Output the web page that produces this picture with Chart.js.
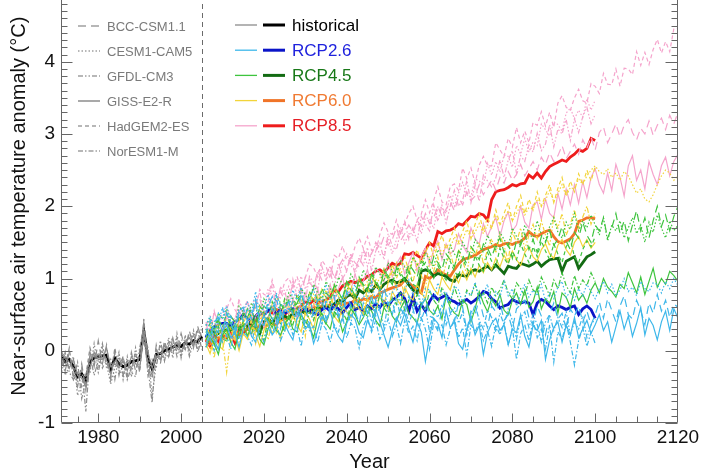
<!DOCTYPE html>
<html><head><meta charset="utf-8">
<script src="https://cdn.jsdelivr.net/npm/chart.js@4"></script>
<style>
html,body{margin:0;padding:0;background:#fff;overflow:hidden;width:710px;height:473px}
#wrap{position:absolute;left:0;top:-40px;width:710px;height:513px}
</style></head><body>
<div id="wrap"><canvas id="c" width="710" height="513"></canvas></div>
<script>
const FONT = '"Liberation Sans", Arial, Helvetica, sans-serif';
const histStart = 1971, futStart = 2006;
const xTickValues = [1980, 2000, 2020, 2040, 2060, 2080, 2100, 2120];
const yTickValues = [-1, 0, 1, 2, 3, 4, 5];
const modelNames = ['BCC-CSM1.1', 'CESM1-CAM5', 'GFDL-CM3', 'GISS-E2-R', 'HadGEM2-ES', 'NorESM1-M'];
const scenarioNames = ['historical', 'RCP2.6', 'RCP4.5', 'RCP6.0', 'RCP8.5'];

// ---- historical (1971-2005) ----
const histMean = [-.06,-.15,-.12,-.22,-.36,-.32,-.42,-.15,-.10,-.08, -.07,-.06,-.26,-.10,-.18,-.22,-.20,-.15,-.14,-.12, .27,-.10,-.25,-.05,-.04,.00,.02,.05,.07,.06, .11,.09,.14,.12,.20];
const hist_BCC = [-.10,-.28,-.02,-.34,-.50,-.18,-.55,-.02,-.22,.14, -.18,.08,-.40,-.02,-.34,-.08,-.36,-.02,-.28,-.04, .38,-.24,-.40,.08,-.18,.14,-.08,.18,-.02,.24, .02,.28,.04,.34,.16];
const hist_CESM = [.08,-.34,-.22,-.08,-.62,-.44,-.30,-.30,.10,-.24, .04,-.18,-.46,-.24,-.02,-.40,-.08,-.36,.04,-.26, .22,.04,-.64,-.18,.08,-.14,.18,-.10,.24,-.10, .22,-.04,.28,.02,.34];
const hist_GFDL = [-.24,-.02,-.30,-.40,-.16,-.66,-.42,-.06,-.34,-.14, .10,-.24,-.12,-.40,-.06,-.34,-.12,-.30,-.36,.04, .32,-.34,-.12,-.24,.14,-.14,.08,.18,-.08,.14, .18,-.08,.12,.28,.02];
const hist_GISS = [-.02,-.08,-.24,-.12,-.34,-.38,-.50,-.24,-.02,-.12, -.12,.04,-.22,-.18,-.24,-.14,-.28,-.08,-.18,-.24, .24,-.02,-.24,-.08,-.12,.08,-.02,.04,.12,-.02, .12,.18,.08,.16,.22];
const hist_HadGEM = [-.18,-.22,.04,-.40,-.30,-.50,-.34,.04,-.16,-.02, -.24,-.12,-.34,.04,-.28,-.34,-.14,-.24,-.02,-.30, .44,-.18,-.34,.02,-.04,.02,.12,-.04,.18,.04, .02,.24,.16,.08,.28];
const hist_NorESM = [-.34,-.08,-.16,-.24,-.44,-.24,-.84,-.08,-.04,-.30, -.02,-.12,-.34,-.12,-.22,-.08,-.40,-.24,-.08,-.12, .18,-.24,-.72,.02,-.12,-.04,-.08,.12,.04,-.08, .12,.02,.24,-.02,.16];

// ---- scenario means (2006-2100) ----
const rcp26Mean = [.18,.28,.33,.36,.38,.38,.34,.40,.43,.50,.45,.40,.48,.54,.50,.56,.59,.50,.57,.52,
 .55,.58,.50,.56,.60,.55,.52,.50,.57,.60,.55,.62,.58,.52,.60,.66,.57,.60,.55,.62,
 .58,.65,.60,.68,.62,.70,.74,.80,.72,.55,.75,.55,.64,.55,.68,.77,.71,.74,.77,.70,
 .68,.64,.68,.71,.66,.70,.75,.82,.80,.72,.68,.59,.62,.64,.71,.68,.66,.68,.66,.50,
 .66,.71,.68,.62,.57,.62,.60,.57,.60,.62,.50,.58,.62,.57,.45];
const rcp45Mean = [.20,.25,.27,.24,.30,.28,.28,.33,.30,.36,.34,.40,.30,.24,.40,.45,.38,.46,.44,.48,
 .45,.52,.50,.55,.52,.58,.55,.60,.57,.62,.60,.65,.70,.68,.75,.78,.72,.84,.80,.86,
 .82,.91,.85,.92,.96,.98,.94,.96,1.00,.91,.84,.80,1.10,1.12,1.10,1.03,1.07,1.05,1.03,.98,
 .96,1.05,1.04,1.03,1.10,1.12,1.10,1.14,1.17,1.12,1.19,1.13,1.07,1.17,1.15,1.14,1.21,1.19,1.17,1.20,
 1.24,1.17,1.22,1.26,1.27,1.28,1.10,1.24,1.27,1.30,1.14,1.22,1.30,1.33,1.37];
const rcp60Mean = [.16,.12,.15,.18,.16,.20,.22,.25,.22,.28,.30,.34,.30,.35,.33,.36,.38,.36,.42,.44,
 .46,.50,.48,.55,.57,.58,.61,.57,.62,.60,.64,.62,.66,.63,.66,.66,.70,.68,.72,.70,
 .75,.73,.80,.82,.85,.87,.89,.91,.98,.94,.89,.84,.80,1.03,1.00,1.05,1.12,1.08,1.05,1.03,
 1.12,1.20,1.26,1.28,1.30,1.32,1.36,1.40,1.42,1.44,1.47,1.45,1.48,1.49,1.47,1.50,1.51,1.56,1.65,1.60,
 1.58,1.62,1.65,1.67,1.58,1.51,1.49,1.52,1.55,1.62,1.79,1.81,1.84,1.84,1.83];
const rcp85Mean = [.15,.06,.22,.13,.22,.18,.24,.11,.32,.24,.31,.36,.40,.52,.50,.55,.52,.57,.55,.50,
 .55,.57,.58,.62,.68,.65,.70,.66,.68,.70,.75,.84,.82,.90,.93,.96,.94,.97,.98,1.03,
 1.05,1.10,1.12,1.08,1.15,1.21,1.18,1.21,1.34,1.33,1.36,1.32,1.28,1.40,1.49,1.45,1.65,1.62,1.66,1.67,
 1.70,1.76,1.74,1.80,1.86,1.85,1.90,1.88,1.81,2.09,2.20,2.22,2.23,2.26,2.30,2.28,2.31,2.32,2.43,2.39,
 2.46,2.39,2.48,2.55,2.58,2.61,2.64,2.62,2.68,2.72,2.78,2.76,2.80,2.94,2.91];

// ---- RCP2.6 models ----
const rcp26_GISS = [.10,.22,.15,.02,.28,.35,.18,.25,.05,.30, .42,.20,.12,.35,.48,.40,.22,.30,.55,.38, .25,.15,.45,.52,.30,.36,.10,.28,.47,.40, .55,.33,.20,.12,.38,.50,.44,.25,.18,.42, .30,.58,.40,.22,.05,.28,.46,.35,.52,.30, .12,.40,.26,-.15,.20,.45,.38,.18,.55,.32, .40,.10,.02,.30,.48,.22,.35,-.05,.25,.38, .45,.28,.36,.08,.30,.25,.50,.20,.05,.35, .28,.42,-.12,.15,.32,.40,.12,.35,.22,.46, .18,.30,.42,.24,.36,.50,.28,.40,.12,.33, .55,.30,.48,.20,.38,.60,.22,.45,.35,.15, .40,.55,.28,.58,.45];
const rcp26_BCC = [.30,.18,.40,.46,.25,.52,.38,.22,.55,.60, .42,.48,.70,.40,.35,.62,.75,.50,.30,.58, .68,.50,.45,.80,.62,.35,.55,.70,.72,.44, .58,.74,.50,.42,.82,.60,.55,.38,.66,.52, .78,.48,.60,.88,.65,.70,.42,.58,.50,.76, .58,.36,.62,.72,.48,.45,.30,.56,.78,.52, .40,.66,.60,.28,.55,.50,.72,.48,.32,.62, .54,.68,.42,.50,.30,.58,.64,.70,.46,.36, .62,.48,.22,.50,.66,.44,.52,.30,.58,.48, .62,.40,.55,.36,.50,.68,.45,.72,.56,.40, .62,.76,.50,.44,.70,.56,.36,.66,.52,.78, .55,.70,.46,.65,.60];
const rcp26_CESM = [.35,.48,.28,.52,.45,.62,.40,.36,.58,.55, .68,.52,.82,.50,.60,.78,.55,.80,.62,.66, .56,.84,.70,.88,.58,.72,.86,.60,.68,.92, .70,.78,.74,.58,.82,.80,.92,.62,.76,.72, .95,.68,.86,.64,.78,.80,.92,.66,.84,.98, .76,.88,.62,.86,.84,.70,.94,.78,.82,.68, .90,.84,.66,.80,.76,.95,.72,.78,.92,.64, .82,.74,.96,.76,.86,.62,.78,.92,.74,.84, .76,.92,.68,.80,.72,.88,.96,.74,.82,.70, .86,.76,.92,.82,.72,.86,.96,.80,.92,.76, .84,1.00,.82,.88,.76,.96,.86,.82,.94,.92, .80,.96,.86,1.00,.90];
const rcp26_NorESM = [.05,.18,.00,.28,.12,.22,.02,.35,.18,.26, .20,.08,.38,.24,.12,.32,.22,.42,.14,.28, .40,.22,.32,.06,.44,.28,.34,.12,.38,.30, .12,.36,.26,.48,.18,.38,.32,.04,.34,.46, .26,.42,.16,.28,.44,.20,.36,.10,.42,.24, .34,.14,.46,.30,.02,.38,.28,.36,.08,.30, .44,.18,.32,-.06,.36,.26,.40,.14,.28,.06, .36,.22,.38,.08,.32,-.12,.24,.36,.14,.42, .18,.30,.02,.36,-.16,.26,.16,.38,.12,-.20, .14,.32,.06,.26,.10];
const rcp26_GFDL = [.20,.42,.15,.38,.60,.34,.48,.28,.55,.40, .58,.44,.70,.32,.50,.66,.38,.74,.46,.58, .52,.68,.42,.64,.56,.76,.48,.58,.36,.70, .52,.62,.44,.75,.54,.38,.68,.62,.46,.64, .40,.70,.56,.32,.66,.50,.74,.46,.60,.38, .54,.68,.42,.60,.26,.56,.46,.64,.36,.52, .60,.38,.54,.22,.46,.64,.42,.30,.56,.46, .26,.52,.36,.58,.42,.16,.46,.54,.32,.50, .36,.12,.40,.50,.28,.46,.32,.54,.22,.40, .30,.48,.18,.36,.44];

// ---- RCP4.5 models ----
const rcp45_GISS = [.05,.18,.10,-.05,.22,.30,.12,.02,.28,.36, .20,.34,.40,.16,.08,.30,.42,.28,.22,.36, .48,.30,.26,.50,.40,.34,.18,.44,.52,.38, .30,.54,.48,.26,.40,.58,.50,.36,.46,.62, .55,.42,.34,.60,.66,.48,.40,.58,.70,.52, .46,.38,.64,.72,.56,.50,.62,.44,.76,.60, .52,.48,.70,.64,.40,.58,.82,.66,.54,.72, .62,.78,.56,.50,.70,.80,.64,.84,.60,.68, .88,.58,.72,.66,.82,.52,.80,.74,.60,.86, .70,.78,.66,.84,.94,.80,1.00,.88,.82,.74, .92,.86,1.08,.94,.80,1.02,.78,.96,1.14,.88, 1.00,.92,1.10,1.04,.96];
const rcp45_BCC = [.30,.18,.36,.42,.28,.22,.48,.40,.30,.52, .46,.58,.38,.50,.62,.56,.44,.40,.64,.58, .70,.54,.66,.78,.60,.72,.86,.68,.62,.80, .74,.90,.82,.70,.96,.88,.76,1.00,.92,.84, 1.06,.98,.86,1.10,1.04,.92,1.14,1.08,.98,1.20, 1.12,1.02,1.24,1.18,1.08,1.30,1.22,1.12,1.34,1.26, 1.16,1.38,1.32,1.20,1.44,1.36,1.26,1.48,1.42,1.30, 1.46,1.56,1.36,1.48,1.28,1.52,1.46,1.62,1.40,1.54, 1.36,1.58,1.50,1.66,1.46,1.54,1.72,1.52,1.40,1.64, 1.56,1.78,1.60,1.50,1.74,1.66,1.84,1.56,1.70,1.90, 1.62,1.80,1.52,1.74,1.94,1.66,1.84,1.56,1.80,2.00, 1.72,1.88,1.66,1.86,2.00];
const rcp45_CESM = [.35,.46,.30,.52,.44,.58,.40,.34,.62,.54, .44,.66,.58,.48,.72,.60,.54,.76,.66,.58, .80,.72,.60,.86,.78,.66,.92,.80,.72,.96, .86,.74,1.02,.92,.80,1.06,.96,.88,1.12,1.00, .92,1.16,1.06,.96,1.22,1.10,1.02,1.26,1.16,1.06, 1.30,1.20,1.10,1.36,1.26,1.16,1.40,1.30,1.22,1.46, 1.34,1.26,1.50,1.40,1.30,1.54,1.44,1.36,1.60,1.48, 1.40,1.64,1.54,1.44,1.70,1.58,1.50,1.74,1.64,1.54, 1.80,1.60,1.52,1.72,1.84,1.64,1.56,1.78,1.68,1.90, 1.66,1.80,1.70,1.88,1.74,1.60,1.84,1.52,1.74,1.66, 1.80,1.56,1.70,1.84,1.62,1.74,1.50,1.78,1.64,1.88, 1.70,1.56,1.80,1.66,1.74];
const rcp45_HadGEM = [.25,.38,.22,.44,.32,.52,.36,.24,.48,.42, .58,.46,.34,.62,.52,.42,.68,.56,.46,.72, .60,.52,.78,.66,.56,.82,.70,.62,.86,.74, .66,.92,.80,.72,.96,.84,.76,1.02,.90,.82, 1.06,.94,.86,1.12,1.00,.92,1.16,1.04,.96,1.10, .92,.88,1.14,1.22,1.08,1.00,1.18,1.06,.98,1.24, 1.10,1.02,1.28,1.14,1.06,1.32,1.18,1.10,1.36,1.24, 1.16,1.42,1.28,1.20,1.38,1.26,1.48,1.34,1.22,1.44, 1.30,1.52,1.38,1.26,1.48,1.34,1.22,1.44,1.54,1.30, 1.22,1.40,1.52,1.44,1.58];
const rcp45_NorESM = [.15,.28,.08,.34,.20,.12,.38,.26,.16,.42, .30,.22,.48,.34,.14,.44,.32,.52,.38,.26, .48,.36,.58,.44,.32,.54,.42,.62,.50,.36, .58,.46,.68,.54,.42,.64,.50,.72,.58,.46, .68,.56,.78,.60,.50,.74,.64,.82,.56,.70, .62,.78,.64,.56,.84,.70,.62,.88,.74,.66, .88,.72,.62,.84,.76,.92,.72,.80,.66,.88, .76,.84,.98,.80,.72,.94,.86,.76,.98,.84, .80,1.02,.90,.76,.98,.86,1.08,.90,.80,1.04, .86,.98,.90,1.08,.96];

// ---- RCP6.0 models ----
const rcp60_CESM = [.18,.04,.30,.22,.12,.38,.28,.20,.44,.30, .36,.50,.26,.42,.54,.34,.48,.60,.40,.52, .62,.48,.58,.72,.56,.64,.78,.60,.70,.84, .70,.86,.76,.68,.92,.82,.74,.98,.86,.96, 1.06,.92,1.00,1.14,.98,1.10,1.22,1.06,1.18,1.12, 1.30,1.18,1.26,1.40,1.28,1.36,1.50,1.34,1.46,1.42, 1.58,1.46,1.54,1.68,1.56,1.64,1.76,1.62,1.74,1.70, 1.86,1.74,1.82,1.94,1.80,1.90,2.02,1.88,1.98,1.96, 2.10,2.00,2.08,2.22,2.06,2.18,2.30,2.14,2.26,2.24, 2.38,2.30,2.42,2.50,2.56,2.48,2.44,2.52,2.40,2.46, 2.36,2.48,2.42,2.30,2.18,2.24,2.10,2.06,2.16,2.30, 2.42,2.50,2.46,2.36,2.42];
const rcp60_GISS = [.10,-.04,.18,.08,.02,.26,.12,.20,.00,.24, .16,.32,.22,.06,.28,.40,.24,.34,.18,.42, .32,.48,.36,.26,.52,.44,.30,.58,.46,.38, .56,.48,.40,.62,.54,.46,.68,.58,.50,.72, .62,.52,.78,.66,.58,.82,.72,.64,.88,.76, .70,.92,.80,.72,.98,.86,.78,1.02,.92,.84, 1.04,.94,1.10,.98,1.14,1.02,1.18,1.08,1.22,1.12, 1.28,1.16,1.32,1.22,1.38,1.26,1.18,1.36,1.44,1.30, 1.24,1.40,1.48,1.34,1.28,1.46,1.54,1.40,1.32,1.50, 1.58,1.44,1.54,1.42,1.50];
const rcp60_GFDL = [.05,.25,-.10,.30,.15,-.30,.20,.35,.05,.40, .20,.45,.10,.35,.55,.15,.40,.25,.60,.30, .50,.70,.35,.55,.20,.65,.45,.75,.40,.60, .85,.55,.70,.45,.80,.95,.60,.75,.50,.90, .70,1.00,.80,.60,.95,1.10,.85,1.00,.75,1.15, .95,1.20,1.05,.85,1.25,1.10,1.30,1.00,1.20,1.35, 1.15,1.40,1.25,1.05,1.45,1.30,1.50,1.20,1.40,1.55, 1.35,1.60,1.45,1.25,1.65,1.50,1.70,1.40,1.60,1.75, 1.55,1.80,1.60,1.45,1.85,1.70,1.90,1.60,1.75,1.95, 1.70,1.85,2.00,1.75,1.90];
const rcp60_HadGEM = [.15,.35,.10,.40,.20,.50,.30,.15,.45,.35, .55,.40,.25,.60,.45,.35,.65,.50,.40,.70, .55,.45,.75,.60,.50,.80,.65,.55,.85,.70, .60,.90,.75,.65,.95,.80,.70,1.00,.85,.75, 1.05,.90,.80,1.10,.95,1.20,1.00,1.15,1.30,1.10, 1.25,1.40,1.20,1.35,1.50,1.30,1.45,1.60,1.40,1.55, 1.70,1.50,1.65,1.80,1.55,1.75,1.90,1.65,1.85,1.70, 1.95,1.75,1.90,2.05,1.80,2.00,2.15,1.90,2.10,1.95, 2.20,2.00,2.15,2.30,2.05,2.25,2.40,2.15,2.35,2.20, 2.45,2.30,2.50,2.35,2.55];

// ---- RCP8.5 models ----
const rcp85_GISS = [.08,.26,.12,.02,.30,.36,.20,.15,.42,.28, .40,.22,.48,.55,.32,.46,.60,.38,.45,.66, .50,.72,.46,.68,.80,.58,.62,.86,.64,.70, .92,.70,.86,1.02,.76,.84,1.06,.88,.96,1.12, .90,1.14,1.08,.96,1.24,1.02,1.20,1.30,1.06,1.22, 1.36,1.10,1.30,1.42,1.18,1.40,1.52,1.26,1.48,1.34, 1.40,1.62,1.46,1.36,1.70,1.55,1.48,1.76,1.58,1.72, 1.84,1.58,1.80,1.92,1.66,1.74,2.00,1.78,1.70,2.02, 2.06,1.82,2.10,1.90,1.84,2.18,1.96,2.24,2.02,2.30, 2.04,2.34,2.12,2.40,2.52,2.30,2.18,2.46,2.22,2.58, 2.40,2.14,2.56,2.70,2.36,2.50,2.24,2.62,2.44,2.30, 2.56,2.68,2.42,2.62,2.72];
const rcp85_BCC = [.32,.18,.38,.30,.24,.46,.40,.36,.56,.44, .58,.48,.62,.72,.50,.60,.76,.68,.82,.70, .74,.92,.86,.80,1.02,.94,.88,1.10,.98,1.04, 1.18,1.00,1.16,1.26,1.10,1.30,1.22,1.16,1.40,1.28, 1.34,1.50,1.42,1.58,1.46,1.54,1.70,1.52,1.62,1.74, 1.64,1.80,1.72,1.90,1.76,1.84,2.00,1.86,1.96,2.06, 1.94,2.12,2.02,2.20,2.08,2.14,2.30,2.16,2.26,2.36, 2.22,2.40,2.32,2.48,2.36,2.44,2.58,2.42,2.52,2.62, 2.50,2.68,2.58,2.74,2.62,2.70,2.84,2.66,2.76,2.86, 2.72,2.92,2.80,2.96,2.78,3.02,3.10,2.88,3.00,3.14, 2.96,3.12,3.20,3.02,2.92,3.08,3.00,3.18,2.98,3.12, 3.22,3.06,3.26,3.14,3.30];
const rcp85_HadGEM = [.40,.30,.53,.41,.32,.58,.72,.57,.48,.57, .69,.51,.60,.85,.78,.75,.98,.75,.73,.95, 1.01,.87,1.03,.83,1.01,1.20,1.15,1.02,1.25,1.17, 1.00,1.32,1.28,1.45,1.25,1.24,1.44,1.56,1.42,1.58, 1.39,1.37,1.61,1.77,1.64,1.61,1.81,1.61,1.76,1.90, 2.00,1.81,1.89,2.09,1.91,2.08,2.27,2.06,2.02,2.27, 2.31,2.22,2.53,2.38,2.53,2.32,2.57,2.69,2.56,2.56, 2.88,2.78,2.69,2.94,2.82,3.09,2.88,3.04,2.88,3.16, 3.12,3.31,3.11,3.30,3.09,3.43,3.53,3.37,3.33,3.50, 3.62,3.46,3.43,3.70,3.66,3.56,3.84,3.69,3.68,3.90, 3.66,3.91,3.90,3.82,4.14,3.95,4.13,3.96,4.17,4.31, 4.12,4.28,4.14,4.46,4.46];
const rcp85_CESM = [.29,.48,.43,.31,.52,.63,.46,.44,.67,.59, .41,.64,.72,.62,.59,.86,.77,.65,.87,.77, .89,.70,.88,1.03,.85,1.00,.82,1.11,1.07,1.04, 1.17,1.02,1.01,1.21,1.34,1.18,1.11,1.30,1.38,1.17, 1.36,1.47,1.33,1.33,1.55,1.34,1.54,1.71,1.49,1.62, 1.60,1.81,1.62,1.84,1.83,1.69,1.99,1.98,1.90,2.15, 2.00,2.18,2.33,2.16,2.13,2.38,2.35,2.29,2.59,2.43, 2.62,2.47,2.71,2.69,2.54,2.84,2.72,2.94,2.75,2.89, 2.84,3.14,3.06,2.97,3.17,3.13,3.04,3.29,3.36,3.21, 3.33,3.23,3.48,3.33,3.47];
const rcp85_GFDL = [.38,.18,.55,.33,.22,.55,.48,.38,.72,.46, .69,.38,.66,.81,.55,.67,.92,.60,.88,.83, .61,.99,.73,.90,.68,1.03,.95,.85,1.17,.98, 1.10,.86,1.21,1.00,1.10,1.35,1.05,1.28,1.18,1.43, 1.10,1.38,1.49,1.26,1.62,1.45,1.40,1.64,1.79,1.54, 1.70,1.51,1.86,1.75,1.66,2.02,1.79,2.01,1.77,2.00, 2.22,2.00,2.08,2.36,2.05,2.29,2.07,2.43,2.35,2.27, 2.39,2.64,2.40,2.64,2.77,2.46,2.70,2.62,2.85,2.75, 3.01,2.77,2.86,3.13,2.82,3.07,3.00,3.20,2.91,3.21, 3.02,3.24,3.37,3.14,3.27];

// ---- styles ----
const dashOf = {
  'BCC-CSM1.1': [8, 5], 'CESM1-CAM5': [1.5, 2], 'GFDL-CM3': [5, 2, 1.5, 2, 1.5, 2],
  'GISS-E2-R': [], 'HadGEM2-ES': [4, 3], 'NorESM1-M': [5, 2, 1.5, 2]
};
const lightCol = { historical: '#8c8c8c', 'RCP2.6': '#3db7ea', 'RCP4.5': '#3ec43e', 'RCP6.0': '#f2d43a', 'RCP8.5': '#f5a4cc' };
const darkCol = { historical: '#000000', 'RCP2.6': '#0a14c8', 'RCP4.5': '#136b13', 'RCP6.0': '#f07428', 'RCP8.5': '#ee1c1c' };
const textCol = { historical: '#000000', 'RCP2.6': '#1f22dd', 'RCP4.5': '#187818', 'RCP6.0': '#f07a32', 'RCP8.5': '#e51e25' };

function series(start, vals, color, width, dash) {
  return { data: vals.map((v, i) => ({ x: start + i, y: v })), borderColor: color, borderWidth: width,
    borderDash: dash, pointRadius: 0, fill: false, tension: 0 };
}
const M = (name, start, vals, scen) => series(start, vals, lightCol[scen], 1.2, dashOf[name]);

const datasets = [
  M('BCC-CSM1.1', histStart, hist_BCC, 'historical'), M('CESM1-CAM5', histStart, hist_CESM, 'historical'),
  M('GFDL-CM3', histStart, hist_GFDL, 'historical'), M('GISS-E2-R', histStart, hist_GISS, 'historical'),
  M('HadGEM2-ES', histStart, hist_HadGEM, 'historical'), M('NorESM1-M', histStart, hist_NorESM, 'historical'),
  M('GISS-E2-R', futStart, rcp26_GISS, 'RCP2.6'), M('BCC-CSM1.1', futStart, rcp26_BCC, 'RCP2.6'),
  M('CESM1-CAM5', futStart, rcp26_CESM, 'RCP2.6'), M('NorESM1-M', futStart, rcp26_NorESM, 'RCP2.6'),
  M('GFDL-CM3', futStart, rcp26_GFDL, 'RCP2.6'),
  M('GISS-E2-R', futStart, rcp45_GISS, 'RCP4.5'), M('BCC-CSM1.1', futStart, rcp45_BCC, 'RCP4.5'),
  M('CESM1-CAM5', futStart, rcp45_CESM, 'RCP4.5'), M('HadGEM2-ES', futStart, rcp45_HadGEM, 'RCP4.5'),
  M('NorESM1-M', futStart, rcp45_NorESM, 'RCP4.5'),
  M('CESM1-CAM5', futStart, rcp60_CESM, 'RCP6.0'), M('GISS-E2-R', futStart, rcp60_GISS, 'RCP6.0'),
  M('GFDL-CM3', futStart, rcp60_GFDL, 'RCP6.0'), M('HadGEM2-ES', futStart, rcp60_HadGEM, 'RCP6.0'),
  M('GISS-E2-R', futStart, rcp85_GISS, 'RCP8.5'), M('BCC-CSM1.1', futStart, rcp85_BCC, 'RCP8.5'),
  M('HadGEM2-ES', futStart, rcp85_HadGEM, 'RCP8.5'), M('CESM1-CAM5', futStart, rcp85_CESM, 'RCP8.5'),
  M('GFDL-CM3', futStart, rcp85_GFDL, 'RCP8.5'),
  series(histStart, histMean, darkCol.historical, 2.8, []),
  series(futStart, rcp26Mean, darkCol['RCP2.6'], 2.8, []),
  series(futStart, rcp45Mean, darkCol['RCP4.5'], 2.8, []),
  series(futStart, rcp60Mean, darkCol['RCP6.0'], 2.8, []),
  series(futStart, rcp85Mean, darkCol['RCP8.5'], 2.8, [])
];

const OFF = 40; // canvas is shifted up by 40px
const frame = {
  id: 'frame',
  beforeDatasetsDraw(chart) {
    const { ctx, chartArea: a, scales: { x } } = chart;
    const px = Math.round(x.getPixelForValue(2005)) + 0.5;
    ctx.save(); ctx.strokeStyle = '#6a6a6a'; ctx.lineWidth = 1; ctx.setLineDash([5, 4]);
    ctx.beginPath(); ctx.moveTo(px, a.bottom); ctx.lineTo(px, a.top); ctx.stroke(); ctx.restore();
  },
  afterDraw(chart) {
    const { ctx, chartArea: a, scales: { x, y } } = chart;
    ctx.save();
    ctx.strokeStyle = '#666'; ctx.lineWidth = 1; ctx.setLineDash([]);
    const L = Math.round(a.left) + 0.5, R = Math.round(a.right) - 0.5, B = Math.round(a.bottom) - 0.5;
    ctx.beginPath();
    ctx.moveTo(L, a.top); ctx.lineTo(L, B); ctx.lineTo(R, B); ctx.lineTo(R, a.top);
    ctx.stroke();
    ctx.beginPath();
    for (let k = -10; k <= 50; k++) {
      const py = Math.round(y.getPixelForValue(k / 10)) + 0.5;
      const major = k % 10 === 0;
      ctx.moveTo(L, py); ctx.lineTo(L + (major ? 11 : 6), py);
      ctx.moveTo(R, py); ctx.lineTo(R - (major ? 12 : 6), py);
    }
    for (let yr = 1975; yr <= 2115; yr += 5) {
      const px = Math.round(x.getPixelForValue(yr)) + 0.5;
      const major = yr % 20 === 0;
      ctx.moveTo(px, B); ctx.lineTo(px, B - (major ? 9 : 6));
    }
    ctx.stroke();

    ctx.font = '13px ' + FONT; ctx.textBaseline = 'middle'; ctx.textAlign = 'left';
    modelNames.forEach((n, i) => {
      const yy = 26 + 25 * i + OFF;
      ctx.strokeStyle = '#707070'; ctx.lineWidth = 1.2; ctx.setLineDash(dashOf[n]);
      ctx.beginPath(); ctx.moveTo(78, yy); ctx.lineTo(100, yy); ctx.stroke();
      ctx.setLineDash([]); ctx.fillStyle = '#7a7a7a'; ctx.fillText(n, 107, yy + 1);
    });
    ctx.font = '17px ' + FONT;
    scenarioNames.forEach((n, i) => {
      const yy = 25 + 25.2 * i + OFF;
      ctx.setLineDash([]);
      ctx.strokeStyle = lightCol[n]; ctx.lineWidth = 1.3;
      ctx.beginPath(); ctx.moveTo(235, yy); ctx.lineTo(257, yy); ctx.stroke();
      ctx.strokeStyle = darkCol[n]; ctx.lineWidth = 3;
      ctx.beginPath(); ctx.moveTo(263, yy); ctx.lineTo(285, yy); ctx.stroke();
      ctx.fillStyle = textCol[n]; ctx.fillText(n, 292, yy + 1);
    });
    ctx.restore();
  }
};

new Chart(document.getElementById('c'), {
  type: 'line',
  data: { datasets },
  plugins: [frame],
  options: {
    responsive: false, animation: false, devicePixelRatio: 1,
    layout: { padding: { top: 29.5, right: 32, left: 0, bottom: 0 } },
    plugins: { legend: { display: false }, tooltip: { enabled: false } },
    elements: { point: { radius: 0 }, line: { tension: 0 } },
    scales: {
      x: {
        type: 'linear', min: 1971, max: 2120,
        afterBuildTicks: s => { s.ticks = xTickValues.map(v => ({ value: v })); },
        afterFit: s => { s.height = 50; },
        grid: { display: false, drawTicks: false }, border: { display: false },
        ticks: { color: '#111', font: { size: 19, family: FONT }, padding: 3, maxRotation: 0, autoSkip: false, callback: v => String(v) },
        title: { display: true, text: 'Year', color: '#111', font: { size: 20, family: FONT, lineHeight: 1 }, padding: { top: 0, bottom: 0.5 } }
      },
      y: {
        type: 'linear', min: -1, max: 5,
        afterBuildTicks: s => { s.ticks = yTickValues.map(v => ({ value: v })); },
        afterFit: s => { s.width = 61; },
        grid: { display: false, drawTicks: false }, border: { display: false },
        ticks: { color: '#111', font: { size: 19, family: FONT }, padding: 6, autoSkip: false, callback: v => String(v) },
        title: { display: true, text: 'Near-surface air temperature anomaly (°C)', color: '#111', font: { size: 20, family: FONT, lineHeight: 1 }, padding: { top: 9, bottom: 0 } }
      }
    }
  }
});
</script></body></html>
